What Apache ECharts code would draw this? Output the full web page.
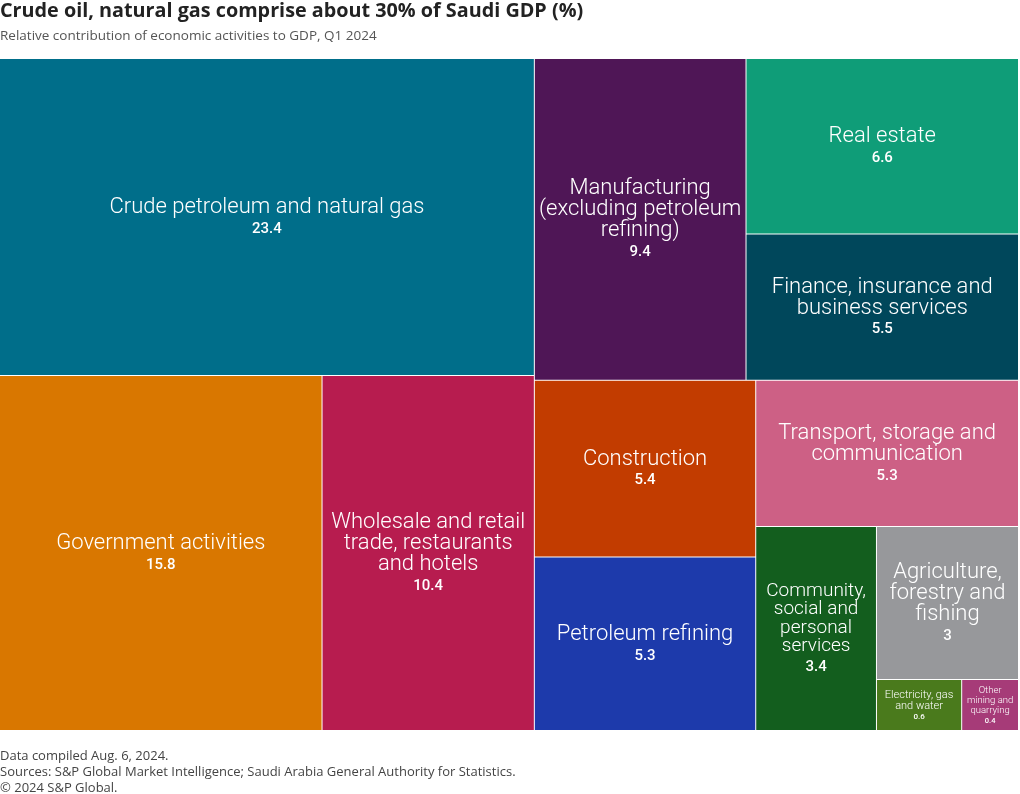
<!DOCTYPE html>
<html>
<head>
<meta charset="utf-8">
<script src="https://cdn.jsdelivr.net/npm/echarts@6/dist/echarts.min.js"></script>
<style>html,body{margin:0;padding:0;background:#fff}#c{width:1020px;height:794px}</style>
</head>
<body>
<div id="c"></div>
<script>
// ---- data ----
var names = [
  'Crude petroleum and natural gas',
  'Government activities',
  'Wholesale and retail\ntrade, restaurants\nand hotels',
  'Manufacturing\n(excluding petroleum\nrefining)',
  'Real estate',
  'Finance, insurance and\nbusiness services',
  'Construction',
  'Petroleum refining',
  'Transport, storage and\ncommunication',
  'Community,\nsocial and\npersonal\nservices',
  'Agriculture,\nforestry and\nfishing',
  'Electricity, gas\nand water',
  'Other\nmining and\nquarrying'
];
var values = [23.4, 15.8, 10.4, 9.4, 6.6, 5.5, 5.4, 5.3, 5.3, 3.4, 3, 0.6, 0.4];
var colors = ['#006e8a', '#d97700', '#b71c4f', '#4f1656', '#0f9d78', '#00475b', '#c23c00', '#1d3aab', '#cd6085', '#135e1e', '#97989b', '#4a7a1c', '#a63b78'];
// grouping of sector indices (nesting only)
var groups = [
  [0, [1, 2]],
  [[3, [4, 5]], [[6, 7], [8, [9, [10, [11, 12]]]]]]
];
var titleText = 'Crude oil, natural gas comprise about 30% of Saudi GDP (%)';
var subText = 'Relative contribution of economic activities to GDP, Q1 2024';
var footer = ['Data compiled Aug. 6, 2024.', 'Sources: S&P Global Market Intelligence; Saudi Arabia General Authority for Statistics.', '\u00a9 2024 S&P Global.'];

var FONT = 'Roboto, "Open Sans", sans-serif';
var TFONT = '"Open Sans", Roboto, sans-serif';
// [name size, value size, name line height, value line height]
var DEF = [22, 15, 21, 22];
var labelSizes = {9: [19, 15, 18.5, 22], 11: [11, 8, 11, 12], 12: [9.5, 7.5, 10, 11]};
function sizesOf(i) { return labelSizes[i] || DEF; }
function contentHeight(i) { var s = sizesOf(i); return names[i].split('\n').length * s[2] + s[3]; }

function build(g, pads) {
  if (typeof g === 'number') {
    var s = sizesOf(g);
    return {
      name: names[g],
      value: values[g],
      itemStyle: {color: colors[g]},
      label: {
        padding: [pads[g] || 0, 0, 0, 0],
        rich: {
          n: {fontSize: s[0], lineHeight: s[2], color: '#fff', fontFamily: FONT, fontWeight: 300, align: 'center'},
          v: {fontSize: s[1], lineHeight: s[3], color: '#fff', fontFamily: FONT, fontWeight: 500, align: 'center'}
        }
      }
    };
  }
  var kids = g.map(function (k) { return build(k, pads); });
  var sum = kids.reduce(function (a, k) { return a + k.value; }, 0);
  return {name: '', value: sum, children: kids};
}

var chart = echarts.init(document.getElementById('c'), null, {renderer: 'canvas'});
var titles = [{
  text: titleText, left: 0, top: 1, padding: 0,
  textStyle: {fontSize: 19.8, fontWeight: 'bold', color: '#222', fontFamily: TFONT}
}, {
  text: subText, left: 0, top: 29, padding: 0,
  textStyle: {fontSize: 13.5, fontWeight: 'normal', color: '#555', fontFamily: TFONT}
}];
footer.forEach(function (t, i) {
  titles.push({text: t, left: 0, top: 750 + i * 16, padding: 0, textStyle: {fontSize: 13, fontWeight: 'normal', color: '#444', fontFamily: TFONT}});
});

function render(pads) {
  chart.setOption({
    animation: false,
    title: titles,
    series: [{
      type: 'treemap',
      left: 0, top: 59, width: 1018, height: 671,
      roam: false, nodeClick: false,
      breadcrumb: {show: false},
      sort: false,
      squareRatio: 1,
      visibleMin: 0,
      itemStyle: {borderColor: '#fff', borderWidth: 0, gapWidth: 1},
      upperLabel: {show: false},
      label: {
        show: true, position: 'inside', overflow: 'none', padding: 0, align: 'center', verticalAlign: 'middle',
        formatter: function (p) { return '{n|' + p.name.split('\n').join('}\n{n|') + '}\n{v|' + p.value + '}'; }
      },
      emphasis: {disabled: true},
      data: groups.map(function (g) { return build(g, pads); })
    }]
  }, true);
}
render({});
// centre each label vertically in its cell using the layout ECharts computed
try {
  var sd = chart.getModel().getSeriesByIndex(0).getData();
  var pads = {};
  for (var i = 0; i < sd.count(); i++) {
    var idx = names.indexOf(sd.getName(i));
    var lay = sd.getItemLayout(i);
    if (idx < 0 || !lay) continue;
    pads[idx] = Math.max(0, (lay.height - contentHeight(idx)) / 2 + 1.5);
  }
  render(pads);
} catch (e) { console.error(e); }
</script>
</body>
</html>
